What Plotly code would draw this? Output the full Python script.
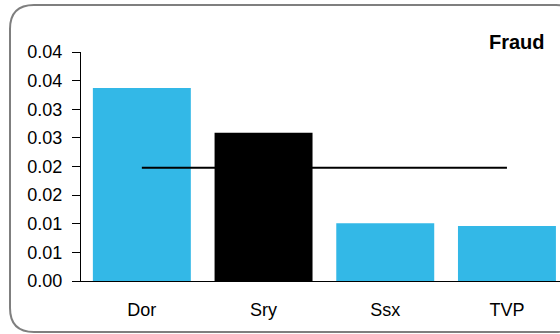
import plotly.graph_objects as go

# chart data
areas = ["Dor", "Sry", "Ssx", "TVP"]
fraud_rate = [0.0337, 0.0259, 0.0101, 0.0096]
bar_colours = ["#33b8e7", "#000000", "#33b8e7", "#33b8e7"]
average = [0.0198, 0.0198, 0.0198, 0.0198]
y_tickvals = [0, 0.005, 0.01, 0.015, 0.02, 0.025, 0.03, 0.035, 0.04]
y_ticktext = ["0.00", "0.01", "0.01", "0.02", "0.02", "0.03", "0.03", "0.04", "0.04"]

W, H = 560, 334
left, right, top, bottom = 81, 0, 52, 53
pw = W - left - right
ph = H - top - bottom


# pixel -> paper coords, used for the rounded frame and the title
def px(x):
    return (x - left) / pw


def py(y):
    return (H - bottom - y) / ph


fig = go.Figure()

fig.add_trace(go.Bar(
    x=areas, y=fraud_rate,
    marker=dict(color=bar_colours, line=dict(width=0)),
    showlegend=False,
))

fig.add_trace(go.Scatter(
    x=areas, y=average, mode="lines",
    line=dict(color="black", width=2),
    showlegend=False,
))

# rounded border, right side runs off the canvas
x0, x1, y0, y1, r = 10, 580, 5, 332, 24
path = (
    f"M {px(x0 + r)},{py(y0)} L {px(x1 - r)},{py(y0)} "
    f"Q {px(x1)},{py(y0)} {px(x1)},{py(y0 + r)} "
    f"L {px(x1)},{py(y1 - r)} Q {px(x1)},{py(y1)} {px(x1 - r)},{py(y1)} "
    f"L {px(x0 + r)},{py(y1)} Q {px(x0)},{py(y1)} {px(x0)},{py(y1 - r)} "
    f"L {px(x0)},{py(y0 + r)} Q {px(x0)},{py(y0)} {px(x0 + r)},{py(y0)} Z"
)
fig.add_shape(type="path", path=path, xref="paper", yref="paper",
              line=dict(color="#7f7f7f", width=2), layer="above")

fig.add_annotation(
    text="<b>Fraud</b>", xref="paper", yref="paper",
    x=px(547), y=py(42), xanchor="right", yanchor="middle",
    showarrow=False, font=dict(size=20, color="black"),
)

fig.update_layout(
    width=W, height=H,
    margin=dict(l=left, r=right, t=top, b=bottom, pad=0),
    paper_bgcolor="white", plot_bgcolor="white",
    font=dict(family="Liberation Sans, Arial", size=18, color="black"),
    bargap=0.195,
)

fig.update_xaxes(
    range=[-0.5, -0.5 + pw / 121.7],
    showline=True, linecolor="black", linewidth=1,
    ticks="outside", ticklen=12, tickcolor="rgba(0,0,0,0)",
    showgrid=False, zeroline=False, fixedrange=True,
)

fig.update_yaxes(
    range=[0, 0.04],
    tickvals=y_tickvals, ticktext=y_ticktext,
    showline=True, linecolor="black", linewidth=1,
    ticks="outside", ticklen=8, tickcolor="black",
    ticklabelstandoff=6,
    showgrid=False, zeroline=False, fixedrange=True,
)

# the page's default body margin would push the 560x334 figure out of the window
fig.write_html(
    "out.html",
    config={"displayModeBar": False},
    post_script="document.body.style.margin = '0';",
)
